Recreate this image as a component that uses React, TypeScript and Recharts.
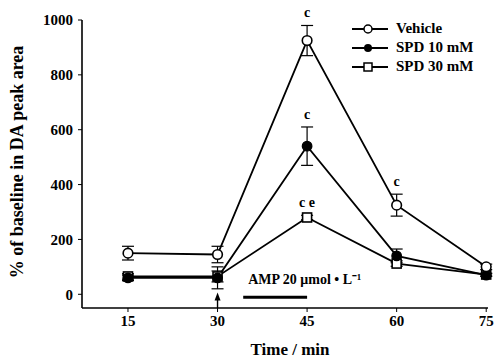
import React from "react";
import {
  LineChart,
  Line,
  XAxis,
  YAxis,
  ErrorBar,
  ReferenceLine,
  ReferenceDot,
} from "recharts";

const times = [15, 30, 45, 60, 75];
const vehicle = [150, 145, 925, 325, 100];
const spd10 = [60, 60, 540, 140, 70];
const spd30 = [65, 65, 280, 112, 72];
const vehicleErr = [25, 30, 55, 40, 10];
const spd10Err = [10, 40, 70, 25, 5];
const spd30Err = [10, 20, 8, 10, 5];
const vehicleSig = ["", "", "c", "c", ""];
const spd10Sig = ["", "", "c", "", ""];
const spd30Sig = ["", "", "c e", "", ""];
const yTicks = [0, 200, 400, 600, 800, 1000];
const xTicks = [15, 30, 45, 60, 75];
const ampStart = 34.3;
const ampEnd = 45;

const FONT = "'Liberation Serif', 'Times New Roman', serif";
const Y_MIN = -50;
const Y_MAX = 1000;
const PLOT_H = 288;

const data = times.map((t, i) => ({
  t,
  vehicle: vehicle[i],
  spd10: spd10[i],
  spd30: spd30[i],
  vehicleErr: vehicleErr[i],
  spd10Err: spd10Err[i],
  spd30Err: spd30Err[i],
}));

// letter above a point, pushed above its error bar
const sigLabel = (sig: string[], err: number[]) => (props: any) => {
  const { x, y, index } = props;
  const s = sig[index];
  if (!s) return null;
  const errPx = (err[index] * PLOT_H) / (Y_MAX - Y_MIN);
  return (
    <text
      key={`sig-${index}`}
      x={x}
      y={y - errPx - 8}
      textAnchor="middle"
      fontFamily={FONT}
      fontWeight="bold"
      fontSize={14}
      fill="#000"
    >
      {s}
    </text>
  );
};

const OpenCircle = (props: any) => (
  <circle key={`oc-${props.index}`} cx={props.cx} cy={props.cy} r={4.8} fill="#fff" stroke="#000" strokeWidth={1.6} />
);
const FilledCircle = (props: any) => (
  <circle key={`fc-${props.index}`} cx={props.cx} cy={props.cy} r={4.8} fill="#000" stroke="#000" strokeWidth={1.2} />
);
const OpenSquare = (props: any) => (
  <rect
    key={`os-${props.index}`}
    x={props.cx - 4.5}
    y={props.cy - 4.5}
    width={9}
    height={9}
    fill="#fff"
    stroke="#000"
    strokeWidth={1.6}
  />
);

const legendItems = [
  { name: "Vehicle", marker: "circle" },
  { name: "SPD 10 mM", marker: "filled" },
  { name: "SPD 30 mM", marker: "square" },
];

const LegendBox = () => (
  <div style={{ position: "absolute", left: 350, top: 19 }}>
    {legendItems.map((it) => (
      <div key={it.name} style={{ display: "flex", alignItems: "center", height: 19 }}>
        <svg width={46} height={14}>
          <line x1={2} y1={7} x2={38} y2={7} stroke="#000" strokeWidth={2} />
          {it.marker === "circle" && <circle cx={18} cy={7} r={4} fill="#fff" stroke="#000" strokeWidth={1.5} />}
          {it.marker === "filled" && <circle cx={18} cy={7} r={4} fill="#000" />}
          {it.marker === "square" && (
            <rect x={14} y={3} width={8} height={8} fill="#fff" stroke="#000" strokeWidth={1.5} />
          )}
        </svg>
        <span style={{ fontFamily: FONT, fontWeight: "bold", fontSize: 15, color: "#000" }}>{it.name}</span>
      </div>
    ))}
  </div>
);

const ArrowHead = (props: any) => (
  <path d={`M${props.cx},${props.cy - 5} L${props.cx - 3},${props.cy + 3} L${props.cx + 3},${props.cy + 3} Z`} fill="#000" />
);

export default function App() {
  const tickStyle = { fontFamily: FONT, fontWeight: "bold", fontSize: 15, fill: "#000" };
  return (
    <div style={{ position: "absolute", left: 0, top: 0, width: 497, height: 360, background: "#fff" }}>
      <LineChart width={497} height={360} data={data} margin={{ top: 20, right: 9, bottom: 0, left: 0 }}>
        <XAxis
          dataKey="t"
          type="number"
          domain={[7.3, 75.3]}
          ticks={xTicks}
          axisLine={{ stroke: "#000", strokeWidth: 1.6 }}
          tickLine={{ stroke: "#000" }}
          tickSize={4}
          tickMargin={3}
          height={52}
          tick={tickStyle}
          label={{
            value: "Time / min",
            position: "insideBottom",
            offset: 5,
            dx: 5,
            style: { fontFamily: FONT, fontWeight: "bold", fontSize: 17, fill: "#000" },
          }}
        />
        <YAxis
          type="number"
          domain={[Y_MIN, Y_MAX]}
          ticks={yTicks}
          axisLine={{ stroke: "#000", strokeWidth: 1.6 }}
          tickLine={{ stroke: "#000" }}
          tickSize={4}
          tickMargin={5}
          width={82}
          tick={tickStyle}
          label={{
            value: "% of baseline in DA peak area",
            angle: -90,
            position: "insideLeft",
            offset: 17,
            dy: -2,
            style: { fontFamily: FONT, fontWeight: "bold", fontSize: 18, fill: "#000", textAnchor: "middle" },
          }}
        />
        <ReferenceLine
          segment={[
            { x: ampStart, y: -11 },
            { x: ampEnd, y: -11 },
          ]}
          stroke="#000"
          strokeWidth={3}
          label={{
            value: "AMP 20 μmol • L⁻¹",
            position: "insideBottomLeft",
            dy: -8,
            style: { fontFamily: FONT, fontWeight: "bold", fontSize: 14, fill: "#000" },
          }}
        />
        <ReferenceLine
          segment={[
            { x: 30, y: Y_MIN },
            { x: 30, y: -12 },
          ]}
          stroke="#000"
          strokeWidth={1.4}
        />
        <ReferenceDot x={30} y={-12} r={3} shape={ArrowHead} />
        <Line
          dataKey="spd30"
          stroke="#000"
          strokeWidth={1.8}
          dot={OpenSquare}
          activeDot={false}
          isAnimationActive={false}
          label={sigLabel(spd30Sig, spd30Err)}
        >
          <ErrorBar dataKey="spd30Err" direction="y" width={6} stroke="#000" strokeWidth={1.2} />
        </Line>
        <Line
          dataKey="spd10"
          stroke="#000"
          strokeWidth={1.8}
          dot={FilledCircle}
          activeDot={false}
          isAnimationActive={false}
          label={sigLabel(spd10Sig, spd10Err)}
        >
          <ErrorBar dataKey="spd10Err" direction="y" width={6} stroke="#000" strokeWidth={1.2} />
        </Line>
        <Line
          dataKey="vehicle"
          stroke="#000"
          strokeWidth={1.8}
          dot={OpenCircle}
          activeDot={false}
          isAnimationActive={false}
          label={sigLabel(vehicleSig, vehicleErr)}
        >
          <ErrorBar dataKey="vehicleErr" direction="y" width={6} stroke="#000" strokeWidth={1.2} />
        </Line>
      </LineChart>
      <LegendBox />
    </div>
  );
}
